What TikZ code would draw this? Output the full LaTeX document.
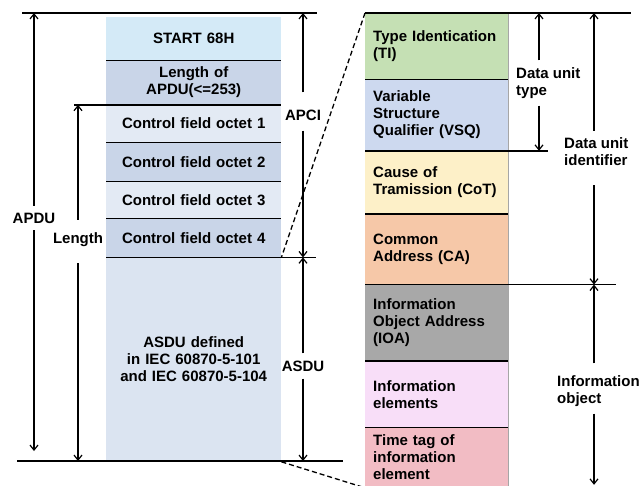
\documentclass[tikz,border=0pt]{standalone}
\usepackage{fontspec}
\setmainfont{Liberation Sans}
\usetikzlibrary{arrows.meta,positioning,calc}

% field colours
\definecolor{startblue}{HTML}{D4EAF7}
\definecolor{darkfield}{HTML}{C9D5E8}
\definecolor{lightfield}{HTML}{E3EAF4}
\definecolor{asdufill}{HTML}{DBE4F1}
\definecolor{tigreen}{HTML}{C5E0B4}
\definecolor{vsqblue}{HTML}{CDD9EF}
\definecolor{cotyellow}{HTML}{FDF0C8}
\definecolor{caorange}{HTML}{F6C8A8}
\definecolor{ioagray}{HTML}{A8A8A8}
\definecolor{iepink}{HTML}{F8DEF8}
\definecolor{ttred}{HTML}{F2BCC4}

\tikzset{
  lfield/.style={anchor=north west, minimum width=175pt, text width=165pt,
    inner xsep=5pt, inner ysep=0pt, align=center},
  rfield/.style={anchor=north west, minimum width=143pt, text width=127pt,
    inner xsep=8pt, inner ysep=0pt, align=left},
  sepline/.style={line width=1.5pt},
  zoomline/.style={line width=1.3pt, dash pattern=on 5pt off 3pt},
  dimarrow/.style={line width=1.2pt, -{Straight Barb[length=5pt,width=8pt]}},
  dimlabel/.style={inner xsep=2pt, inner ysep=7pt, align=left}
}

\begin{document}
\begin{tikzpicture}[x=1pt, y=-1pt, font=\bfseries\fontsize{15}{17}\selectfont, text=black]
    \useasboundingbox (0,0) rectangle (642,485);

    % APDU frame
    \node[lfield, fill=startblue, minimum height=43pt] (start) at (106,17) {START 68H};
    \node[lfield, fill=darkfield, minimum height=44pt] (lenapdu) at (start.south west) {Length of\\APDU(<=253)};
    \foreach \i/\y/\h/\c in {1/104/38pt/lightfield, 2/142/39pt/darkfield, 3/181/37pt/lightfield, 4/218/39pt/darkfield}
        \node[lfield, fill=\c, minimum height=\h] (oct\i) at (106,\y) {Control field octet \i};
    \node[lfield, fill=asdufill, minimum height=204pt] (asdu) at (oct4.south west) {ASDU defined\\in IEC 60870-5-101\\and IEC 60870-5-104};

    % ASDU fields
    \node[rfield, fill=tigreen, minimum height=66pt] (ti) at (365,13) {Type Identication\\(TI)};
    \node[rfield, fill=vsqblue, minimum height=71pt] (vsq) at (ti.south west) {Variable\\Structure\\Qualifier (VSQ)};
    \node[rfield, fill=cotyellow, minimum height=63pt] (cot) at (vsq.south west) {Cause of\\Tramission (CoT)};
    \node[rfield, fill=caorange, minimum height=70pt] (ca) at (cot.south west) {Common\\Address (CA)};
    \node[rfield, fill=ioagray, minimum height=76pt] (ioa) at (ca.south west) {Information\\Object Address\\(IOA)};
    \node[rfield, fill=iepink, minimum height=66pt] (ie) at (ioa.south west) {Information\\elements};
    \node[rfield, fill=ttred, minimum height=60pt] (tt) at (ie.south west) {Time tag of\\information\\element};
    \draw[gray!70, line width=0.6pt] (ti.north east) -- (tt.south east);

    % row separators
    \foreach \n in {start, oct1, oct2, oct3, ti, cot, ioa, ie}
        \draw[sepline] (\n.south west) -- (\n.south east);

    % reference lines
    \coordinate (ftopl) at (22,13);
    \coordinate (ftopr) at (317,13);
    \coordinate (fbotl) at (17,461);
    \coordinate (fbotr) at (343,461);
    \draw[sepline] (ftopl) -- (ftopr);
    \draw[sepline] (fbotl) -- (fbotr);
    \draw[sepline] ([xshift=-32pt]lenapdu.south west) -- (lenapdu.south east);
    \draw[sepline] (oct4.south west) -- ([xshift=35pt]oct4.south east);
    \draw[sepline] (ti.north west) -- ++(266,0);
    \draw[sepline] (vsq.south west) -- ++(183,0);
    \draw[sepline] (ca.south west) -- ++(251,0);

    % zoom lines
    \draw[zoomline] (ti.north west) -- (oct4.south east);
    \draw[zoomline] (asdu.south east) -- (tt.south west);

    % left dimensions
    \node[dimlabel] (apdu) at (34,218) {APDU};
    \node[dimlabel] (len) at (78,240) {Length};
    \node[dimlabel] (apci) at (303,115) {APCI};
    \node[dimlabel] (asdulbl) at (303,366) {ASDU};
    \draw[dimarrow] (apdu.north) -- (apdu.north |- ftopl);
    \draw[dimarrow] (apdu.south) -- ($(apdu.south |- fbotl)+(0,-10)$);
    \draw[dimarrow, shorten <=6pt] (len.north) -- (len.north |- lenapdu.south);
    \draw[dimarrow, shorten <=9pt] (len.south) -- (len.south |- fbotl);
    \draw[dimarrow, shorten <=10pt] (apci.north) -- (apci.north |- ftopl);
    \draw[dimarrow, shorten <=3pt] (apci.south) -- (apci.south |- oct4.south);
    \draw[dimarrow] (asdulbl.north) -- (asdulbl.north |- oct4.south);
    \draw[dimarrow] (asdulbl.south) -- (asdulbl.south |- fbotl);

    % right dimensions
    \coordinate (typex) at (539,0);
    \coordinate (idx) at (594,0);
    \node[dimlabel, anchor=west] (dtype) at (514,83) {Data unit\\type};
    \node[dimlabel, anchor=west] (dunit) at (562,152) {Data unit\\identifier};
    \node[dimlabel, anchor=west] (iobj) at (555,391) {Information\\object};
    \draw[dimarrow] (typex |- dtype.north) -- (typex |- ti.north);
    \draw[dimarrow] (typex |- dtype.south) -- (typex |- vsq.south);
    \draw[dimarrow] (idx |- dunit.north) -- (idx |- ti.north);
    \draw[dimarrow, shorten <=12pt] (idx |- dunit.south) -- (idx |- ca.south);
    \draw[dimarrow, shorten <=5pt] (idx |- iobj.north) -- (idx |- ca.south);
    \draw[dimarrow, shorten >=3pt] (idx |- iobj.south) -- (idx |- tt.south);
\end{tikzpicture}
\end{document}
